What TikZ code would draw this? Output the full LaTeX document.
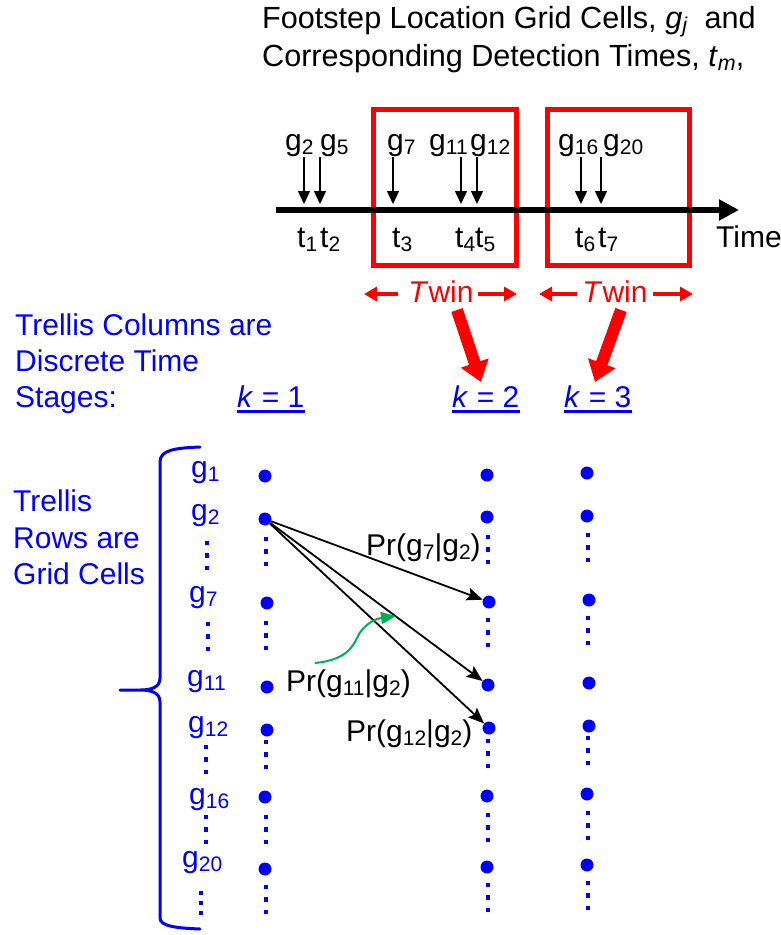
\documentclass[tikz,border=0pt]{standalone}
\usepackage{fontspec}
\usepackage{graphicx}
\setmainfont{Liberation Sans}
\usetikzlibrary{arrows.meta}
\definecolor{myred}{RGB}{255,0,0}
\definecolor{myblue}{RGB}{0,0,255}
\definecolor{mygreen}{RGB}{0,176,80}
\newcommand{\sbs}[1]{\raisebox{-0.3ex}{\scalebox{0.7}{#1}}}
\newcommand{\vdts}[3][12.5]{\foreach \k in {0,1,2} {\fill[myblue] (#2-1.8,#3+\k*#1-2.2) rectangle (#2+1.8,#3+\k*#1+2.2);}}
\begin{document}
\begin{tikzpicture}[x=1pt,y=-1pt,
  txt/.style={inner sep=0pt, anchor=base west, font=\fontsize{30}{36}\selectfont},
  ttl/.style={txt, font=\fontsize{30.6}{36}\selectfont},
  btxt/.style={txt, text=myblue},
  rtxt/.style={txt, text=myred},
  redbox/.style={draw=myred, line width=5pt},
  tick/.style={line width=1.4pt, -{Triangle[length=13pt,width=12pt]}},
  twinarr/.style={draw=myred, line width=4pt, -{Triangle[length=13pt,width=14pt]}},
  bigarr/.style={draw=myred, line width=12pt, -{Triangle[length=20pt,width=28pt]}},
  dot/.style={circle, fill=myblue, minimum size=13pt, inner sep=0pt},
  blk/.style={line width=1.8pt, -{Stealth[length=16pt,width=13pt,inset=3pt]}},
  grn/.style={draw=mygreen, line width=2pt, -{Triangle[length=15pt,width=12pt]}},
  uline/.style={draw=myblue, line width=2.6pt}
]
\useasboundingbox (0,0) rectangle (780,935);

% title
\node[ttl] (title1) at (262,28) {Footstep Location Grid Cells, \textit{g}\sbs{\textit{j}}\ \ and};
\node[ttl] (title2) at (262,66) {Corresponding Detection Times, \textit{t}\sbs{\textit{m}},};

% red boxes
\draw[redbox] (373,109) rectangle (516,265);
\draw[redbox] (547,109) rectangle (689.5,265);

% time axis
\coordinate (ax0) at (276,210);
\coordinate (ax1) at (739,210);
\draw[line width=6pt, -{Triangle[length=20pt,width=20pt]}] (ax0) -- (ax1);
\node[txt] (time) at (716,247) {Time};

% tick arrows
\foreach \n/\x in {2/304,5/320,7/393,11/461,12/477,16/581,20/601}{
  \coordinate (ts\n) at (\x,157);
  \coordinate (te\n) at (\x,204);
  \draw[tick] (ts\n) -- (te\n);
}
\node[txt] (lg2) at (285,150) {g\sbs{2}};
\node[txt] (lg5) at (320,150) {g\sbs{5}};
\node[txt] (lg7) at (387,150) {g\sbs{7}};
\node[txt] (lg11) at (429,150) {g\sbs{11}};
\node[txt] (lg12) at (470,150) {g\sbs{12}};
\node[txt] (lg16) at (558,150) {g\sbs{16}};
\node[txt] (lg20) at (603,150) {g\sbs{20}};

\node[txt] (lt1) at (297,247) {t\sbs{1}};
\node[txt] (lt2) at (320,247) {t\sbs{2}};
\node[txt] (lt3) at (392,247) {t\sbs{3}};
\node[txt] (lt4) at (455,247) {t\sbs{4}};
\node[txt] (lt5) at (475,247) {t\sbs{5}};
\node[txt] (lt6) at (575,247) {t\sbs{6}};
\node[txt] (lt7) at (598,247) {t\sbs{7}};

% Twin labels
\node[rtxt, anchor=base] (tw1) at (441,302) {\textit{T}win};
\node[rtxt, anchor=base] (tw2) at (615,302) {\textit{T}win};
\coordinate (tw1l0) at (398,294); \coordinate (tw1l1) at (364,294);
\coordinate (tw1r0) at (478,294); \coordinate (tw1r1) at (517,294);
\coordinate (tw2l0) at (577,294); \coordinate (tw2l1) at (539,294);
\coordinate (tw2r0) at (653,294); \coordinate (tw2r1) at (693,294);
\draw[twinarr] (tw1l0) -- (tw1l1);
\draw[twinarr] (tw1r0) -- (tw1r1);
\draw[twinarr] (tw2l0) -- (tw2l1);
\draw[twinarr] (tw2r0) -- (tw2r1);

% big red arrows
\coordinate (ba1s) at (457,310); \coordinate (ba1e) at (481,382);
\coordinate (ba2s) at (621,310); \coordinate (ba2e) at (595,382);
\draw[bigarr] (ba1s) -- (ba1e);
\draw[bigarr] (ba2s) -- (ba2e);

% blue texts
\node[btxt] (c1) at (15,335) {Trellis Columns are};
\node[btxt] (c2) at (15,371) {Discrete Time};
\node[btxt] (c3) at (15,407) {Stages:};
\node[btxt] (k1) at (237,407) {\textit{k} = 1};
\node[btxt] (k2) at (452,407) {\textit{k} = 2};
\node[btxt] (k3) at (564,407) {\textit{k} = 3};
\foreach \k in {k1,k2,k3}{
  \draw[uline] ([yshift=-4.5pt]\k.base west) -- ([yshift=-4.5pt]\k.base east);
}
\node[btxt] (r1) at (13,511) {Trellis};
\node[btxt] (r2) at (13,548) {Rows are};
\node[btxt] (r3) at (13,584) {Grid Cells};

% brace
\draw[myblue, line width=3pt, line cap=round]
  (200,447) .. controls (175,448) and (160,450) .. (160,462)
  -- (160,678) .. controls (160,688) and (150,690) .. (140,690) -- (120,690)
  (140,690) .. controls (150,690) and (160,692) .. (160,702)
  -- (160,918) .. controls (160,926) and (175,928) .. (200,929);

% row labels
\node[btxt] (g1) at (191,477) {g\sbs{1}};
\node[btxt] (g2) at (191,520) {g\sbs{2}};
\node[btxt] (g7) at (189,602) {g\sbs{7}};
\node[btxt] (g11) at (187,686) {g\sbs{11}};
\node[btxt] (g12) at (188,732) {g\sbs{12}};
\node[btxt] (g16) at (189,804) {g\sbs{16}};
\node[btxt] (g20) at (182,867) {g\sbs{20}};
\vdts{207}{543}
\vdts{208}{624}
\vdts{206}{747}
\vdts{206}{817}
\vdts[10]{201}{893}

% trellis dots
\node[dot] (a1) at (265,476) {};
\node[dot] (a2) at (265,519) {};
\node[dot] (a7) at (267,603) {};
\node[dot] (a11) at (267,687) {};
\node[dot] (a12) at (267,730) {};
\node[dot] (a16) at (265,797) {};
\node[dot] (a20) at (265,869) {};
\node[dot] (b1) at (487,475) {};
\node[dot] (b2) at (487,517) {};
\node[dot] (b7) at (489,602) {};
\node[dot] (b11) at (488,685) {};
\node[dot] (b12) at (489,728) {};
\node[dot] (b16) at (487,796) {};
\node[dot] (b20) at (487,867) {};
\node[dot] (c1d) at (587,473) {};
\node[dot] (c2d) at (587,516) {};
\node[dot] (c7d) at (589,600) {};
\node[dot] (c11d) at (589,683) {};
\node[dot] (c12d) at (589,726) {};
\node[dot] (c16d) at (587,794) {};
\node[dot] (c20d) at (587,865) {};
\foreach \y in {539,623,742,817,887}{\vdts{266}{\y}}
\foreach \y in {537,620,741,815,885}{\vdts{488}{\y}}
\foreach \y in {535,618,738,813,883}{\vdts{588}{\y}}

% transition arrows
\draw[blk] (a2) -- (b7);
\draw[blk] (a2) -- (b11);
\draw[blk] (a2) -- (b12);
\node[txt] (p7) at (366,555) {Pr(g\sbs{7}|g\sbs{2})};
\node[txt] (p11) at (286,691) {Pr(g\sbs{11}|g\sbs{2})};
\node[txt] (p12) at (346,741) {Pr(g\sbs{12}|g\sbs{2})};

% green pointer
\coordinate (gs) at (315,663);
\coordinate (ge) at (396,616);
\draw[grn] (gs) .. controls (345,660) and (352,648) .. (357,638) .. controls (362,626) and (374,619) .. (ge);
\end{tikzpicture}
\end{document}
